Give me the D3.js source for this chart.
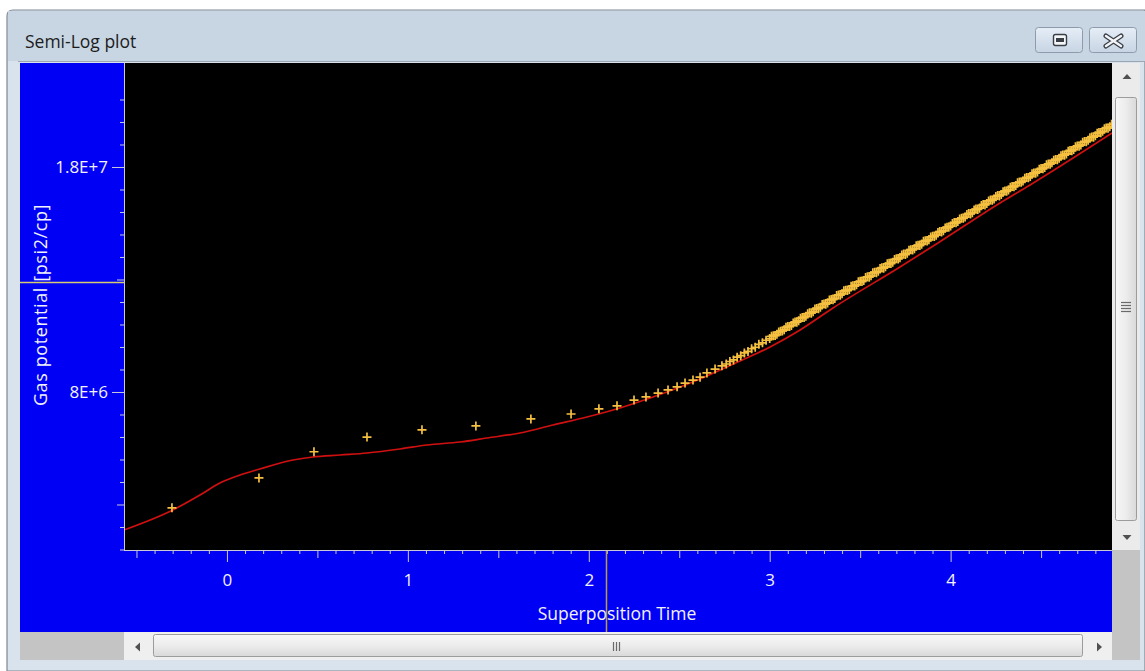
<!DOCTYPE html>
<html>
<head>
<meta charset="utf-8">
<script src="https://cdn.jsdelivr.net/npm/d3@7"></script>
<style>
  html, body { margin: 0; padding: 0; background: #ffffff; overflow: hidden; }
  svg { display: block; font-family: "Open Sans", "Noto Sans", sans-serif; }
</style>
</head>
<body>
<svg id="win" width="1145" height="671"></svg>
<script>
// Measured gas potential vs superposition time (crosses)
const measuredTime = [
  -0.304, 0.177, 0.481, 0.774, 1.078, 1.376, 1.680, 1.902, 2.056, 2.156,
  2.250, 2.316, 2.383, 2.438, 2.488, 2.532, 2.576, 2.615, 2.653, 2.698,
  2.736, 2.76, 2.78, 2.80, 2.82, 2.84, 2.86, 2.88, 2.90, 2.92, 2.94, 2.96, 2.98,
  3.00, 3.01, 3.02, 3.03, 3.04, 3.05, 3.06, 3.07, 3.08, 3.09,
  3.10, 3.11, 3.12, 3.13, 3.14, 3.15, 3.16, 3.17, 3.18, 3.19,
  3.20, 3.21, 3.22, 3.23, 3.24, 3.25, 3.26, 3.27, 3.28, 3.29,
  3.30, 3.31, 3.32, 3.33, 3.34, 3.35, 3.36, 3.37, 3.38, 3.39,
  3.40, 3.41, 3.42, 3.43, 3.44, 3.45, 3.46, 3.47, 3.48, 3.49,
  3.50, 3.51, 3.52, 3.53, 3.54, 3.55, 3.56, 3.57, 3.58, 3.59,
  3.60, 3.61, 3.62, 3.63, 3.64, 3.65, 3.66, 3.67, 3.68, 3.69,
  3.70, 3.71, 3.72, 3.73, 3.74, 3.75, 3.76, 3.77, 3.78, 3.79,
  3.80, 3.81, 3.82, 3.83, 3.84, 3.85, 3.86, 3.87, 3.88, 3.89,
  3.90, 3.91, 3.92, 3.93, 3.94, 3.95, 3.96, 3.97, 3.98, 3.99,
  4.00, 4.01, 4.02, 4.03, 4.04, 4.05, 4.06, 4.07, 4.08, 4.09,
  4.10, 4.11, 4.12, 4.13, 4.14, 4.15, 4.16, 4.17, 4.18, 4.19,
  4.20, 4.21, 4.22, 4.23, 4.24, 4.25, 4.26, 4.27, 4.28, 4.29,
  4.30, 4.31, 4.32, 4.33, 4.34, 4.35, 4.36, 4.37, 4.38, 4.39,
  4.40, 4.41, 4.42, 4.43, 4.44, 4.45, 4.46, 4.47, 4.48, 4.49,
  4.50, 4.51, 4.52, 4.53, 4.54, 4.55, 4.56, 4.57, 4.58, 4.59,
  4.60, 4.61, 4.62, 4.63, 4.64, 4.65, 4.66, 4.67, 4.68, 4.69,
  4.70, 4.71, 4.72, 4.73, 4.74, 4.75, 4.76, 4.77, 4.78, 4.79,
  4.80, 4.81, 4.82, 4.83, 4.84, 4.85, 4.86, 4.87, 4.88, 4.89
];
const measuredPotential = [
  5.27e6, 5.87e6, 6.45e6, 6.80e6, 6.98e6, 7.08e6, 7.26e6, 7.39e6, 7.53e6, 7.61e6,
  7.77e6, 7.86e6, 7.97e6, 8.06e6, 8.15e6, 8.26e6, 8.35e6, 8.44e6, 8.57e6, 8.69e6,
  8.79e6, 8.85e6, 8.93e6, 8.98e6, 9.07e6, 9.12e6, 9.21e6, 9.26e6, 9.35e6, 9.40e6, 9.50e6, 9.55e6, 9.64e6,
  9.70e6, 9.78e6, 9.80e6, 9.81e6, 9.85e6, 9.93e6, 9.96e6, 9.97e6, 10.01e6, 10.10e6,
  10.13e6, 10.13e6, 10.17e6, 10.26e6, 10.30e6, 10.29e6, 10.34e6, 10.44e6, 10.46e6, 10.46e6,
  10.51e6, 10.61e6, 10.64e6, 10.63e6, 10.68e6, 10.79e6, 10.81e6, 10.80e6, 10.86e6, 10.97e6,
  10.99e6, 10.98e6, 11.03e6, 11.15e6, 11.17e6, 11.16e6, 11.21e6, 11.33e6, 11.35e6, 11.34e6,
  11.40e6, 11.52e6, 11.54e6, 11.53e6, 11.58e6, 11.71e6, 11.73e6, 11.72e6, 11.77e6, 11.90e6,
  11.92e6, 11.91e6, 11.96e6, 12.09e6, 12.12e6, 12.10e6, 12.16e6, 12.29e6, 12.32e6, 12.30e6,
  12.36e6, 12.49e6, 12.52e6, 12.50e6, 12.56e6, 12.70e6, 12.72e6, 12.71e6, 12.77e6, 12.90e6,
  12.93e6, 12.92e6, 12.98e6, 13.11e6, 13.15e6, 13.13e6, 13.19e6, 13.33e6, 13.36e6, 13.35e6,
  13.41e6, 13.55e6, 13.58e6, 13.56e6, 13.63e6, 13.77e6, 13.80e6, 13.79e6, 13.85e6, 13.99e6,
  14.03e6, 14.01e6, 14.08e6, 14.22e6, 14.26e6, 14.24e6, 14.31e6, 14.45e6, 14.49e6, 14.48e6,
  14.55e6, 14.69e6, 14.73e6, 14.72e6, 14.79e6, 14.93e6, 14.97e6, 14.96e6, 15.03e6, 15.17e6,
  15.22e6, 15.20e6, 15.27e6, 15.42e6, 15.47e6, 15.45e6, 15.52e6, 15.67e6, 15.72e6, 15.70e6,
  15.78e6, 15.93e6, 15.98e6, 15.96e6, 16.04e6, 16.19e6, 16.24e6, 16.22e6, 16.30e6, 16.46e6,
  16.51e6, 16.49e6, 16.57e6, 16.73e6, 16.78e6, 16.76e6, 16.84e6, 17.00e6, 17.05e6, 17.03e6,
  17.11e6, 17.28e6, 17.33e6, 17.31e6, 17.40e6, 17.56e6, 17.61e6, 17.60e6, 17.68e6, 17.85e6,
  17.90e6, 17.88e6, 17.97e6, 18.14e6, 18.20e6, 18.18e6, 18.27e6, 18.44e6, 18.49e6, 18.47e6,
  18.57e6, 18.74e6, 18.80e6, 18.78e6, 18.87e6, 19.05e6, 19.10e6, 19.08e6, 19.18e6, 19.36e6,
  19.42e6, 19.40e6, 19.49e6, 19.68e6, 19.73e6, 19.71e6, 19.82e6, 20.00e6, 20.06e6, 20.04e6,
  20.14e6, 20.33e6, 20.38e6, 20.36e6, 20.47e6, 20.66e6, 20.72e6, 20.70e6, 20.81e6, 21.00e6
];

// Model response (red curve)
const modelTime = [
  -0.569, -0.299, -0.149, -0.039, 0.072, 0.182, 0.365, 0.475, 0.625, 0.774,
  0.956, 1.106, 1.288, 1.437, 1.620, 1.802, 1.990, 2.172, 2.355, 2.615,
  2.836, 3.002, 3.168, 3.350, 3.720, 3.941, 4.273, 4.439, 4.892
];
const modelPotential = [
  4.865e6, 5.229e6, 5.519e6, 5.763e6, 5.932e6, 6.062e6, 6.261e6, 6.329e6, 6.375e6, 6.421e6,
  6.514e6, 6.609e6, 6.681e6, 6.778e6, 6.901e6, 7.103e6, 7.310e6, 7.552e6, 7.857e6, 8.384e6,
  8.946e6, 9.409e6, 10.003e6, 10.829e6, 12.553e6, 13.75e6, 15.81e6, 16.87e6, 20.346e6
];

// Axis ticks and labels
const xTickValues = [0, 1, 2, 3, 4];
const yTickValues = [8e6, 1.8e7];
const yTickLabels = ["8E+6", "1.8E+7"];
const xTitle = "Superposition Time";
const yTitle = "Gas potential [psi2/cp]";
const windowTitle = "Semi-Log plot";

// ---------- layout ----------
const W = 1145, H = 671;
const plot = { left: 124, right: 1112, top: 63, bottom: 550 };
const panel = { left: 20, right: 1112, top: 63, bottom: 632 };

const svg = d3.select("#win");
const defs = svg.append("defs");

function vGrad(id, stops) {
  const g = defs.append("linearGradient").attr("id", id)
    .attr("x1", 0).attr("y1", 0).attr("x2", 0).attr("y2", 1);
  stops.forEach(([o, c]) => g.append("stop").attr("offset", o).attr("stop-color", c));
}
function hGrad(id, stops) {
  const g = defs.append("linearGradient").attr("id", id)
    .attr("x1", 0).attr("y1", 0).attr("x2", 1).attr("y2", 0);
  stops.forEach(([o, c]) => g.append("stop").attr("offset", o).attr("stop-color", c));
}
vGrad("btnGrad", [[0, "#e6eef7"], [1, "#c7d4e3"]]);
vGrad("hThumb", [[0, "#f7f7f7"], [0.5, "#ececec"], [1, "#d9d9d9"]]);
hGrad("vThumb", [[0, "#f7f7f7"], [0.5, "#ececec"], [1, "#d9d9d9"]]);

// ---------- window frame ----------
svg.append("rect").attr("width", W).attr("height", H).attr("fill", "#ffffff");
svg.append("path")
  .attr("d", `M7,${H} L7,16 Q7,10 13,10 L${W},10 L${W},${H} Z`)
  .attr("fill", "#d9e3ee").attr("stroke", "#7d8791").attr("stroke-width", 1.2);
svg.append("rect").attr("x", 8).attr("y", 11).attr("width", W - 8).attr("height", 50)
  .attr("fill", "#c8d5e3");
svg.append("line").attr("x1", 18).attr("x2", W).attr("y1", 61.5).attr("y2", 61.5)
  .attr("stroke", "#9aa6b3").attr("stroke-width", 1);

svg.append("text").attr("x", 25).attr("y", 48)
  .attr("font-size", 17.5).attr("fill", "#1c1c1c").text(windowTitle);

// title bar buttons
const btns = svg.append("g");
btns.append("rect").attr("x", 1035.5).attr("y", 27.5).attr("width", 47).attr("height", 25).attr("rx", 3)
  .attr("fill", "url(#btnGrad)").attr("stroke", "#8f9bab");
btns.append("rect").attr("x", 1089.5).attr("y", 27.5).attr("width", 47).attr("height", 25).attr("rx", 3)
  .attr("fill", "url(#btnGrad)").attr("stroke", "#8f9bab");
btns.append("rect").attr("x", 1053.5).attr("y", 34.5).attr("width", 13).attr("height", 11).attr("rx", 2)
  .attr("fill", "#f4f6f8").attr("stroke", "#3a3f46").attr("stroke-width", 1.4);
btns.append("rect").attr("x", 1056).attr("y", 38).attr("width", 8).attr("height", 4)
  .attr("fill", "#3a3f46");
const xIcon = `M1106,36 L1121,46 M1121,36 L1106,46`;
btns.append("path").attr("d", xIcon).attr("stroke", "#3a3f46").attr("stroke-width", 5).attr("stroke-linecap", "round");
btns.append("path").attr("d", xIcon).attr("stroke", "#f3f5f8").attr("stroke-width", 2.4).attr("stroke-linecap", "round");

// ---------- plot panel ----------
svg.append("rect").attr("x", panel.left).attr("y", panel.top)
  .attr("width", panel.right - panel.left).attr("height", panel.bottom - panel.top)
  .attr("fill", "#0000f5");
svg.append("rect").attr("x", plot.left).attr("y", plot.top)
  .attr("width", plot.right - plot.left).attr("height", plot.bottom - plot.top)
  .attr("fill", "#000000");

// scales
const x = d3.scaleLinear().domain([-0.569, 4.892]).range([plot.left, plot.right]);
const y = d3.scaleLog().domain([4.5266e6, 2.6185e7]).range([plot.bottom, plot.top]);

// minor/mid ticks evenly spaced between the labelled values
const ratio = yTickValues[1] / yTickValues[0];
const yMinor = d3.range(-7, 14).filter(k => k % 5 !== 0).map(k => yTickValues[0] * Math.pow(ratio, k / 10));
const yMid = [-5, 5].map(k => yTickValues[0] * Math.pow(ratio, k / 10));
const xMinor = d3.range(-5, 49).filter(k => k % 5 !== 0).map(k => k / 10);
const xMid = d3.range(-5, 49, 10).map(k => k / 10);

const axisColor = "#c8c8d8";
const labelColor = "#f2f2ff";

function styleAxis(g) {
  g.select(".domain").remove();
  g.selectAll(".tick line").attr("stroke", axisColor).attr("stroke-width", 1);
}

// y axis
svg.append("g").attr("transform", `translate(${plot.left},0)`)
  .call(d3.axisLeft(y).tickValues(yMinor).tickSize(4).tickFormat(""))
  .call(styleAxis);
svg.append("g").attr("transform", `translate(${plot.left},0)`)
  .call(d3.axisLeft(y).tickValues(yMid).tickSize(7).tickFormat(""))
  .call(styleAxis);
const yMajor = svg.append("g").attr("transform", `translate(${plot.left},0)`)
  .call(d3.axisLeft(y).tickValues(yTickValues).tickSize(12).tickPadding(4)
    .tickFormat((d, i) => yTickLabels[i]))
  .call(styleAxis);
yMajor.selectAll(".tick text").attr("fill", labelColor).attr("font-size", 17)
  .attr("font-family", "'Open Sans', sans-serif").attr("dy", "0.34em");

// x axis
svg.append("g").attr("transform", `translate(0,${plot.bottom})`)
  .call(d3.axisBottom(x).tickValues(xMinor).tickSize(4).tickFormat(""))
  .call(styleAxis);
svg.append("g").attr("transform", `translate(0,${plot.bottom})`)
  .call(d3.axisBottom(x).tickValues(xMid).tickSize(8).tickFormat(""))
  .call(styleAxis);
const xMajor = svg.append("g").attr("transform", `translate(0,${plot.bottom})`)
  .call(d3.axisBottom(x).tickValues(xTickValues).tickSize(12).tickFormat(d3.format("d")))
  .call(styleAxis);
xMajor.selectAll(".tick text").attr("fill", labelColor).attr("font-size", 17)
  .attr("font-family", "'Open Sans', sans-serif").attr("y", 24).attr("dy", "0.71em");

// axis lines
svg.append("line").attr("x1", plot.left + 0.5).attr("x2", plot.left + 0.5)
  .attr("y1", plot.top).attr("y2", plot.bottom + 0.5).attr("stroke", axisColor);
svg.append("line").attr("x1", plot.left).attr("x2", plot.right)
  .attr("y1", plot.bottom + 0.5).attr("y2", plot.bottom + 0.5).attr("stroke", axisColor);

// axis titles
svg.append("text").attr("x", 617).attr("y", 620).attr("text-anchor", "middle")
  .attr("font-size", 17.5).attr("fill", labelColor).text(xTitle);
svg.append("text").attr("transform", "translate(47,305) rotate(-90)")
  .attr("text-anchor", "middle").attr("font-size", 18).attr("letter-spacing", 0.6)
  .attr("fill", labelColor).text(yTitle);

// cursor cross-hair markers
svg.append("line").attr("x1", panel.left).attr("x2", plot.left)
  .attr("y1", 282.5).attr("y2", 282.5).attr("stroke", "#d8cc70").attr("stroke-width", 1.5);
svg.append("line").attr("x1", 606.5).attr("x2", 606.5)
  .attr("y1", plot.bottom + 1).attr("y2", panel.bottom).attr("stroke", "#b49c48").attr("stroke-width", 1.5);

// ---------- data ----------
const clip = defs.append("clipPath").attr("id", "plotClip");
clip.append("rect").attr("x", plot.left + 1).attr("y", plot.top)
  .attr("width", plot.right - plot.left - 1).attr("height", plot.bottom - plot.top);

const layer = svg.append("g").attr("clip-path", "url(#plotClip)");

const model = modelTime.map((t, i) => [t, modelPotential[i]]);
layer.append("path")
  .datum(model)
  .attr("d", d3.line().x(d => x(d[0])).y(d => y(d[1])).curve(d3.curveMonotoneX))
  .attr("fill", "none").attr("stroke", "#d01010").attr("stroke-width", 1.7);

const measured = measuredTime.map((t, i) => [t, measuredPotential[i]]);
const s = 4.5;
layer.append("g").selectAll("path")
  .data(measured)
  .join("path")
  .attr("d", d => {
    const cx = x(d[0]), cy = y(d[1]);
    return `M${cx - s},${cy} L${cx + s},${cy} M${cx},${cy - s} L${cx},${cy + s}`;
  })
  .attr("stroke", "#f5c040").attr("stroke-width", 1.7).attr("fill", "none");

// ---------- scrollbars ----------
// vertical
svg.append("rect").attr("x", 1112).attr("y", plot.top).attr("width", 28).attr("height", plot.bottom - plot.top)
  .attr("fill", "#ebebeb");
svg.append("path").attr("d", "M1122.5,79 L1131.5,79 L1127,74 Z").attr("fill", "#505050");
svg.append("rect").attr("x", 1115.5).attr("y", 97.5).attr("width", 21).attr("height", 423).attr("rx", 2)
  .attr("fill", "url(#vThumb)").attr("stroke", "#9c9c9c");
[302, 305, 308, 311].forEach(gy => svg.append("line")
  .attr("x1", 1121).attr("x2", 1131).attr("y1", gy + 0.5).attr("y2", gy + 0.5)
  .attr("stroke", "#6a6a6a").attr("stroke-width", 1.2));
svg.append("path").attr("d", "M1122.5,535 L1131.5,535 L1127,540 Z").attr("fill", "#505050");

// bottom-right corner block
svg.append("rect").attr("x", 1112).attr("y", plot.bottom).attr("width", 28).attr("height", 110)
  .attr("fill", "#c4c4c4");

// horizontal
svg.append("rect").attr("x", panel.left).attr("y", panel.bottom).attr("width", plot.left - panel.left).attr("height", 28)
  .attr("fill", "#c4c4c4");
svg.append("rect").attr("x", plot.left).attr("y", panel.bottom).attr("width", plot.right - plot.left).attr("height", 28)
  .attr("fill", "#efefef");
svg.append("path").attr("d", "M140,642.5 L140,651.5 L135,647 Z").attr("fill", "#505050");
svg.append("rect").attr("x", 153.5).attr("y", 634.5).attr("width", 929).attr("height", 22).attr("rx", 2)
  .attr("fill", "url(#hThumb)").attr("stroke", "#9c9c9c");
[613, 616, 619].forEach(gx => svg.append("line")
  .attr("x1", gx + 0.5).attr("x2", gx + 0.5).attr("y1", 642).attr("y2", 651)
  .attr("stroke", "#6a6a6a").attr("stroke-width", 1.2));
svg.append("path").attr("d", "M1097,642.5 L1097,651.5 L1102,647 Z").attr("fill", "#505050");
</script>
</body>
</html>
